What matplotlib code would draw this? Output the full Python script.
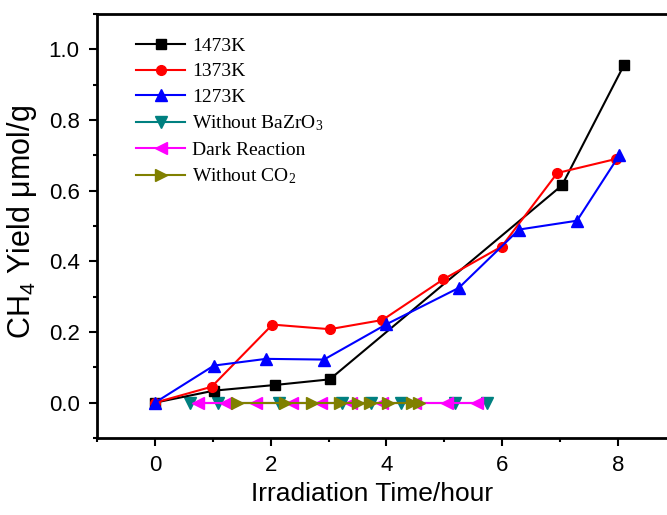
import numpy as np
import matplotlib
matplotlib.use("Agg")
import matplotlib.pyplot as plt
from matplotlib.ticker import MultipleLocator, FormatStrFormatter

# CH4 yield vs irradiation time
t_1473 = [0, 1.02, 2.07, 3.02, 7.03, 8.1]
y_1473 = [0.0, 0.034, 0.05, 0.066, 0.615, 0.955]

t_1373 = [0, 0.98, 2.03, 3.02, 3.93, 4.98, 5.99, 6.95, 7.97]
y_1373 = [0.0, 0.045, 0.221, 0.208, 0.234, 0.349, 0.442, 0.65, 0.69]

t_1273 = [0, 1.02, 1.92, 2.92, 4.0, 5.25, 6.29, 7.29, 8.02]
y_1273 = [0.0, 0.105, 0.124, 0.122, 0.222, 0.325, 0.49, 0.515, 0.70]

t_nobzo = [0.61, 1.09, 2.14, 3.24, 3.74, 4.25, 5.19, 5.74]
y_nobzo = [0.0] * len(t_nobzo)

t_dark = [0.74, 1.22, 1.74, 2.37, 2.87, 3.39, 3.93, 4.49, 5.05, 5.56]
y_dark = [0.0] * len(t_dark)

t_noco2 = [1.41, 2.25, 2.72, 3.2, 3.5, 3.71, 4.03, 4.44, 4.57]
y_noco2 = [0.0] * len(t_noco2)

series = [
    (t_1473, y_1473, 's', 'black', '1473K', 6.5),
    (t_1373, y_1373, 'o', 'red', '1373K', 7),
    (t_1273, y_1273, '^', 'blue', '1273K', 8.5),
    (t_nobzo, y_nobzo, 'v', '#008080', r'Without $\mathregular{BaZrO_3}$', 8.5),
    (t_dark, y_dark, '<', '#FF00FF', 'Dark Reaction', 8.5),
    (t_noco2, y_noco2, '>', '#808000', r'Without $\mathregular{CO_2}$', 8.5),
]

fig = plt.figure(figsize=(6.67, 5.15), dpi=100)
ax = fig.add_axes([0.1454, 0.1495, 1.0135 - 0.1454, 0.9728 - 0.1495])

handles = []
for t, y, m, c, lab, ms in series:
    h, = ax.plot(t, y, marker=m, color=c, markersize=ms, linewidth=1.5,
                 markeredgecolor=c, label=lab)
    handles.append(h)
for h in handles[:3]:
    h.set_zorder(3)

ax.set_xlim(-1, 9)
ax.set_ylim(-0.1, 1.1)
ax.xaxis.set_major_locator(MultipleLocator(2))
ax.xaxis.set_minor_locator(MultipleLocator(1))
ax.yaxis.set_major_locator(MultipleLocator(0.2))
ax.yaxis.set_minor_locator(MultipleLocator(0.1))
ax.yaxis.set_major_formatter(FormatStrFormatter('%.1f'))

for s in ax.spines.values():
    s.set_linewidth(2)
ax.tick_params(which='major', direction='out', length=6, width=1.5,
               labelsize=16, pad=6.5, top=False, right=False)
ax.tick_params(which='minor', direction='out', length=3, width=1.5,
               top=False, right=False)
for lbl in ax.get_xticklabels() + ax.get_yticklabels():
    lbl.set_fontfamily('Liberation Sans')

ax.set_xlabel('Irradiation Time/hour', fontsize=19, family='Liberation Sans',
              labelpad=6)
ax.xaxis.set_label_coords(0.475, -0.1)
ax.xaxis.label.set_va('center')
ax.xaxis.set_label_coords(0.475, (438 - 494) / 424)
ax.set_ylabel(r'$\mathregular{CH_4}$ Yield μmol/g', fontsize=22,
              family='Liberation Sans')
ax.yaxis.set_label_coords(-0.1, 0.51)

leg = ax.legend(handles=handles, loc='upper left', bbox_to_anchor=(0.068, 0.945),
                frameon=False, prop={'family': 'Liberation Serif', 'size': 14},
                handlelength=2.5, handletextpad=0.35, labelspacing=0.4,
                borderaxespad=0, borderpad=0)

fig.savefig('out.png', dpi=100)
